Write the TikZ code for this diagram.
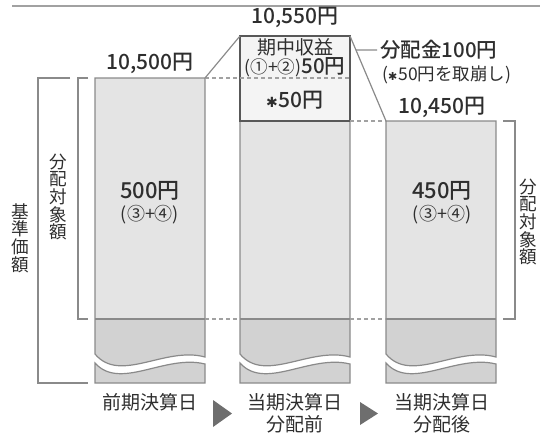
\documentclass[tikz,border=0pt]{standalone}
\usepackage{fontspec}
\setmainfont{Noto Sans CJK JP}
\IfFontExistsTF{Noto Sans CJK JP Medium}{\newfontfamily\medfont{Noto Sans CJK JP Medium}}{\newcommand\medfont{\bfseries}}
\newfontfamily\djv{DejaVu Sans}
\usetikzlibrary{calc}
\definecolor{lite}{HTML}{E4E4E4}
\definecolor{darkpart}{HTML}{D2D2D2}
\definecolor{edge}{HTML}{8A8A8A}
\definecolor{txt}{HTML}{2E2E2E}
\definecolor{boxfill}{HTML}{F4F4F4}
\definecolor{boxedge}{HTML}{585858}
\definecolor{tri}{HTML}{6E6E6E}
\tikzset{
  edgeline/.style={draw=edge, line width=1.2pt},
  guide/.style={draw=edge!80, line width=1.2pt, dash pattern=on 4pt off 3pt},
  bignum/.style={font=\medfont\fontsize{21}{21}\selectfont, text=txt, inner sep=0pt},
  midtxt/.style={font=\fontsize{19}{19}\selectfont, text=txt, inner sep=0pt},
  smalltxt/.style={font=\fontsize{18}{18}\selectfont, text=txt, inner sep=0pt},
  vtxt/.style={font=\fontsize{17.6}{17.6}\selectfont, text=txt, inner sep=0pt, align=center},
}
\newcommand{\myast}[1]{{\djv\mdseries\fontsize{#1}{#1}\selectfont ✱}\hspace{1pt}}
\newcommand{\mybar}[2]{%
  \fill[lite] (#1,#2) rectangle (#1+110,319);
  \fill[darkpart] (#1,319) -- (#1,354) .. controls (#1+25,384) and (#1+70,346) .. (#1+110,357) -- (#1+110,319) -- cycle;
  \fill[darkpart] (#1,363) .. controls (#1+25,391) and (#1+70,354) .. (#1+110,364) -- (#1+110,383) -- (#1,383) -- cycle;
  \draw[edgeline] (#1,354) .. controls (#1+25,384) and (#1+70,346) .. (#1+110,357) -- (#1+110,#2) -- (#1,#2) -- cycle;
  \draw[edgeline] (#1,363) .. controls (#1+25,391) and (#1+70,354) .. (#1+110,364) -- (#1+110,383) -- (#1,383) -- cycle;
  \draw[edgeline] (#1,319) -- (#1+110,319);
}
\begin{document}
\begin{tikzpicture}[x=1pt,y=-1pt]
\useasboundingbox (0,0) rectangle (540,434);
\draw[draw=edge!80, line width=1.6pt] (12,6) -- (540,6);

% bars
\mybar{95}{78}
\mybar{240}{121}
\mybar{386}{121}

% key points
\coordinate (b1tr) at (205,78);
\coordinate (b1br) at (205,319);
\coordinate (boxtl) at (240,36);
\coordinate (boxtr) at (350,36);
\coordinate (boxml) at (240,78);
\coordinate (boxmr) at (350,78);
\coordinate (b2tr) at (350,121);
\coordinate (b2bl) at (240,319);
\coordinate (b2br) at (350,319);
\coordinate (b3tl) at (386,121);
\coordinate (b3bl) at (386,319);

% income box
\filldraw[fill=boxfill, draw=boxedge, line width=2pt] (240,36) rectangle (350,121);
\draw[guide] (boxml) -- (boxmr);

% guides
\draw[guide] (b1tr) -- (boxml);
\draw[guide] (b2tr) -- (b3tl);
\draw[guide] (b1br) -- (b2bl);
\draw[guide] (b2br) -- (b3bl);
\draw[edgeline] (b1tr) -- (boxtl);
\draw[edgeline] (boxtr) -- (b3tl);
\coordinate (dj) at ($(boxtr)!0.165!(b3tl)$);
\coordinate (dk) at (377,50);
\draw[edgeline] (dj) -- (dk);

% brackets
\draw[edgeline] (70,78) -- (38,78) -- (38,383) -- (88,383);
\draw[edgeline] (88,78) -- (78,78) -- (78,319) -- (88,319);
\draw[edgeline] (503,121) -- (515,121) -- (515,319) -- (503,319);

% arrows
\fill[tri] (213,400) -- (232,413.5) -- (213,427) -- cycle;
\fill[tri] (360,402) -- (378,413.5) -- (360,425) -- cycle;

% texts
\node[bignum] (t1) at (150,63) {10,500円};
\node[bignum] (t2) at (295,17) {10,550円};
\node[bignum] (t3) at (442,107) {10,450円};
\node[bignum, font=\medfont\fontsize{20.5}{20.5}\selectfont, anchor=west] (t4) at (380,50) {分配金100円};
\node[smalltxt, font=\fontsize{17.5}{17.5}\selectfont, anchor=west] (t5) at (382,75) {(\myast{11}50円を取崩し)};
\node[midtxt] (t6) at (295,47) {期中収益};
\node[midtxt] (t7) at (295,67) {{\fontsize{17.5}{17.5}\selectfont (①+②)}{\medfont\fontsize{20.5}{20.5}\selectfont 50円}};
\node[bignum] (t8) at (295,100) {\myast{14}50円};
\node[bignum, font=\medfont\fontsize{22}{22}\selectfont] (t9) at (150,191) {500円};
\node[smalltxt] (t10) at (150,215) {(③+④)};
\node[bignum, font=\medfont\fontsize{22}{22}\selectfont] (t11) at (442,191) {450円};
\node[smalltxt] (t12) at (442,215) {(③+④)};
\node[vtxt] (v1) at (20,238) {基\\準\\価\\額};
\node[vtxt] (v2) at (58,197) {分\\配\\対\\象\\額};
\node[vtxt] (v3) at (528,222) {分\\配\\対\\象\\額};
\node[midtxt] (l1) at (150,402) {前期決算日};
\node[midtxt] (l2) at (295,402) {当期決算日};
\node[midtxt] (l3) at (295,424) {分配前};
\node[midtxt] (l4) at (442,402) {当期決算日};
\node[midtxt] (l5) at (442,424) {分配後};
\end{tikzpicture}
\end{document}
